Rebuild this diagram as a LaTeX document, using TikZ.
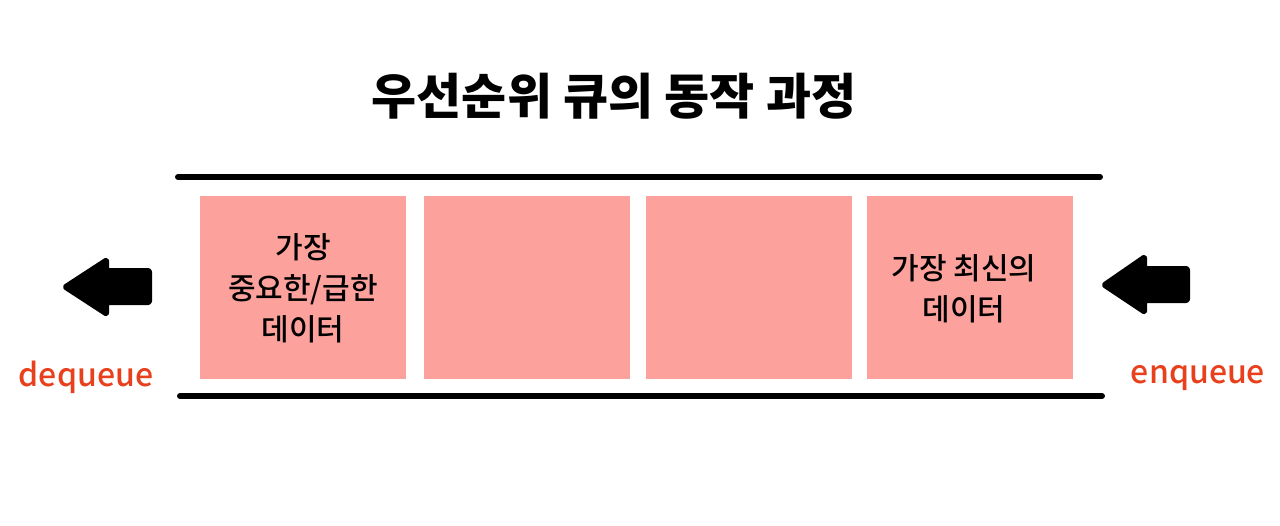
\documentclass[tikz,border=0pt]{standalone}
\usepackage{fontspec}
\newfontfamily\cjk{Noto Sans CJK KR}
\newfontfamily\cjkm{Noto Sans CJK KR}[UprightFont=* Medium]
\definecolor{cellpink}{HTML}{FDA19C}
\definecolor{opred}{HTML}{E8401C}
\begin{document}
\begin{tikzpicture}[x=1pt,y=-1pt,
  cell/.style={fill=cellpink, draw=none, minimum width=206pt, minimum height=183pt, anchor=north west, inner sep=0pt},
  rail/.style={line width=6pt, line cap=round},
  celltext/.style={font=\cjkm\fontsize{30}{41}\selectfont, align=center, text=black},
  oplabel/.style={font=\cjkm\fontsize{32}{34}\selectfont, text=opred},
  bigarrow/.style={fill=black, draw=black, line width=4pt, line join=round, rounded corners=2pt}]
\useasboundingbox (0,0) rectangle (1280,525);
\node[font=\cjk\bfseries\fontsize{49}{56}\selectfont] (title) at (614,96) {우선순위 큐의 동작 과정};
\coordinate (tl) at (178,177); \coordinate (tr) at (1100,177);
\coordinate (bl) at (180,396); \coordinate (br) at (1102,396);
\draw[rail] (tl) -- (tr);
\draw[rail] (bl) -- (br);
\node[cell] (c1) at (200,196) {};
\node[cell] (c2) at (424,196) {};
\node[cell] (c3) at (646,196) {};
\node[cell] (c4) at (867,196) {};
\node[celltext] (t1) at (303,288) {가장\\중요한/급한\\데이터};
\node[celltext] (t4) at (964,289) {가장 최신의\\데이터};
% dequeue arrow
\fill[bigarrow] (64,287) -- (107,259) -- (107,270) -- (150,270) -- (150,303) -- (107,303) -- (107,315) -- cycle;
% enqueue arrow
\fill[bigarrow] (1103,285) -- (1145,256) -- (1145,268) -- (1188,268) -- (1188,301) -- (1145,301) -- (1145,313) -- cycle;
\node[oplabel] (deq) at (86,377) {dequeue};
\node[oplabel] (enq) at (1198,378) {enqueue};
\end{tikzpicture}
\end{document}
